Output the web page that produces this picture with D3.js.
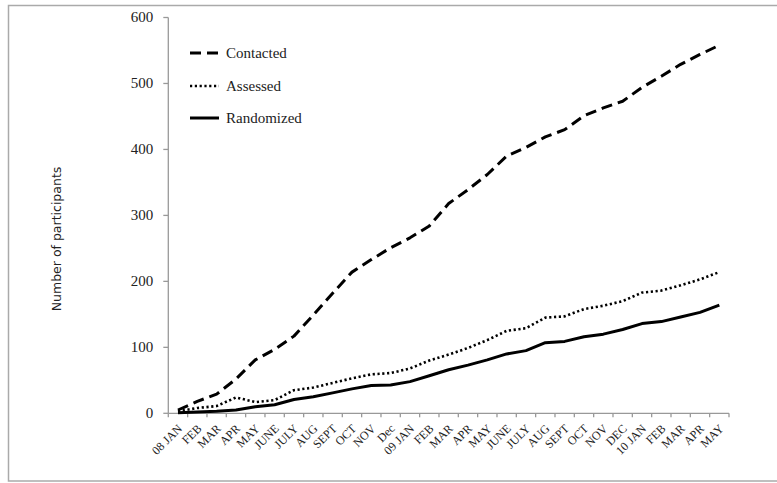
<!DOCTYPE html>
<html lang="en">
<head>
  <meta charset="UTF-8">
  <title>Number of participants</title>
  <style>
    body { margin: 0; background: #fff; }
    .axis-line { stroke: #999; stroke-width: 1.3px; fill: none; }
    .tick-label { font-family: "Liberation Serif", "DejaVu Serif", serif; font-size: 15px; fill: #222; }
    .month-label { font-family: "Liberation Serif", "DejaVu Serif", serif; font-size: 12px; fill: #222; }
    .legend-label { font-family: "Liberation Serif", "DejaVu Serif", serif; font-size: 15px; fill: #222; }
    .y-title { font-family: "DejaVu Sans", sans-serif; font-size: 12.5px; fill: #222; }
    .series { fill: none; stroke: #000; stroke-linejoin: round; }
  </style>
</head>
<body>
  <script src="https://d3js.org/d3.v7.min.js"></script>
  <script>
    const months = ["08 JAN", "FEB", "MAR", "APR", "MAY", "JUNE", "JULY", "AUG", "SEPT", "OCT", "NOV", "Dec",
      "09 JAN", "FEB", "MAR", "APR", "MAY", "JUNE", "JULY", "AUG", "SEPT", "OCT", "NOV", "DEC",
      "10 JAN", "FEB", "MAR", "APR", "MAY"];

    const contacted = [5, 18, 29, 52, 81, 97, 117, 149, 182, 214, 233, 251, 266, 284, 318, 339, 362, 390,
      403, 419, 430, 451, 463, 473, 494, 511, 529, 544, 558];
    const assessed = [3, 8, 11, 24, 17, 20, 35, 39, 46, 53, 59, 61, 68, 80, 89, 99, 111, 125,
      129, 145, 147, 158, 163, 170, 183, 186, 194, 203, 214];
    const randomized = [1, 2, 3, 5, 10, 13, 21, 25, 31, 37, 42, 43, 48, 57, 66, 73, 81, 90,
      95, 107, 109, 116, 120, 127, 136, 139, 146, 153, 164];

    const yTicks = [0, 100, 200, 300, 400, 500, 600];

    const series = [
      {name: "Contacted", values: contacted, dash: "11,6", width: 3},
      {name: "Assessed", values: assessed, dash: "2.2,2.6", width: 2.6},
      {name: "Randomized", values: randomized, dash: null, width: 3}
    ];

    const width = 777, height = 483;
    const svg = d3.select("body").append("svg").attr("width", width).attr("height", height);

    // outer frame
    svg.append("rect")
      .attr("x", 8.5).attr("y", 5.5).attr("width", 800).attr("height", 475.5)
      .attr("fill", "none").attr("stroke", "#aaa").attr("stroke-width", 1.5);

    const x = d3.scaleBand().domain(d3.range(months.length)).range([168.3, 729]).padding(0);
    const y = d3.scaleLinear().domain([0, 600]).range([413.3, 17.5]);
    const cx = i => x(i) + x.bandwidth() / 2;

    // y axis
    const yAxis = svg.append("g");
    yAxis.append("line").attr("class", "axis-line")
      .attr("x1", x.range()[0]).attr("x2", x.range()[0])
      .attr("y1", y(600)).attr("y2", y(0));
    yAxis.selectAll(".ytick").data(yTicks).enter().append("line")
      .attr("class", "axis-line")
      .attr("x1", x.range()[0] - 5).attr("x2", x.range()[0])
      .attr("y1", d => y(d)).attr("y2", d => y(d));
    yAxis.selectAll(".tick-label").data(yTicks).enter().append("text")
      .attr("class", "tick-label")
      .attr("x", x.range()[0] - 15).attr("y", d => y(d))
      .attr("dy", "0.33em").attr("text-anchor", "end")
      .text(d => d);

    // x axis, ticks between categories
    const xAxis = svg.append("g");
    xAxis.append("line").attr("class", "axis-line")
      .attr("x1", x.range()[0]).attr("x2", x.range()[1])
      .attr("y1", y(0)).attr("y2", y(0));
    const bounds = d3.range(months.length + 1).map(i => x.range()[0] + i * x.bandwidth());
    xAxis.selectAll(".xtick").data(bounds).enter().append("line")
      .attr("class", "axis-line")
      .attr("x1", d => d).attr("x2", d => d)
      .attr("y1", y(0)).attr("y2", y(0) + 4);
    xAxis.selectAll(".month-label").data(months).enter().append("text")
      .attr("class", "month-label")
      .attr("text-anchor", "end")
      .attr("transform", (d, i) => `translate(${cx(i) + 5},${y(0) + 16}) rotate(-45)`)
      .text(d => d);

    // y title
    svg.append("text").attr("class", "y-title")
      .attr("text-anchor", "middle")
      .attr("transform", "translate(61,239) rotate(-90)")
      .text("Number of participants");

    // lines
    const line = d3.line().x((d, i) => cx(i)).y(d => y(d));
    svg.selectAll(".series").data(series).enter().append("path")
      .attr("class", "series")
      .attr("d", d => line(d.values))
      .attr("stroke-width", d => d.width)
      .attr("stroke-dasharray", d => d.dash);

    // legend
    const legendY = [53, 86, 118];
    const legend = svg.selectAll(".legend").data(series).enter().append("g")
      .attr("transform", (d, i) => `translate(190,${legendY[i]})`);
    legend.append("line")
      .attr("x1", 0).attr("x2", 29).attr("y1", 0).attr("y2", 0)
      .attr("stroke", "#000")
      .attr("stroke-width", d => d.width)
      .attr("stroke-dasharray", d => d.dash);
    legend.append("text").attr("class", "legend-label")
      .attr("x", 36).attr("y", 0).attr("dy", "0.33em")
      .text(d => d.name);
  </script>
</body>
</html>
